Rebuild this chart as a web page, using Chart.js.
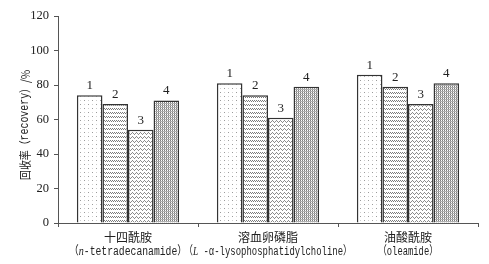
<!DOCTYPE html>
<html>
<head>
<meta charset="utf-8">
<script src="https://cdn.jsdelivr.net/npm/chart.js@4"></script>
<style>
  html, body { margin: 0; padding: 0; background: #fff; }
  #wrap { width: 489px; height: 264px; }
</style>
</head>
<body>
<div id="wrap"><canvas id="chart" width="489" height="264"></canvas></div>
<script>
// 数据
const categoriesCn = ['十四酰胺', '溶血卵磷脂', '油酸酰胺'];
const categoriesEn = [
    ['（', 'n', '-tetradecanamide）'],
    ['（', 'L', ' -α-lysophosphatidylcholine）'],
    ['（oleamide）']
];
const seriesNames = ['1', '2', '3', '4'];
const series1 = [74, 81, 86];
const series2 = [69, 74, 79];
const series3 = [54, 61, 69];
const series4 = [71, 79, 81];
const yTicks = [0, 20, 40, 60, 80, 100, 120];

const serif = '"Liberation Serif", "DejaVu Serif", "Noto Sans CJK SC", serif';
const mono = '"Liberation Mono", "DejaVu Sans Mono", "Noto Sans CJK SC", monospace';
const cjk = '"Noto Sans CJK SC", "Liberation Serif", serif';

// texturas dos bars
function makePattern(kind) {
    const c = document.createElement('canvas');
    c.width = 8; c.height = 8;
    const g = c.getContext('2d');
    g.fillStyle = '#fff';
    g.fillRect(0, 0, 8, 8);
    if (kind === 'dots') {
        g.fillStyle = '#9a9a9a';
        g.fillRect(0, 0, 1, 1);
        g.fillRect(4, 4, 1, 1);
        g.fillStyle = '#cfcfcf';
        g.fillRect(4, 0, 1, 1);
        g.fillRect(0, 4, 1, 1);
    } else if (kind === 'wave') {
        g.fillStyle = '#7a7a7a';
        for (let x = 0; x < 8; x++) {
            const y = (x % 2 === 0) ? 0 : 1;
            g.fillRect(x, y, 1, 1);
            g.fillRect(x, y + 4, 1, 1);
        }
    } else if (kind === 'zigzag') {
        g.fillStyle = '#8c8c8c';
        for (let x = 0; x < 8; x++) {
            const y = [0, 1, 2, 1][x % 4];
            g.fillRect(x, y, 1, 1);
            g.fillRect(x, y + 4, 1, 1);
        }
    } else {
        g.fillStyle = '#7e7e7e';
        for (let y = 0; y < 8; y++) {
            for (let x = 0; x < 8; x++) {
                if ((x + y) % 2 === 0) g.fillRect(x, y, 1, 1);
            }
        }
        g.fillStyle = '#b0b0b0';
        for (let y = 1; y < 8; y += 2) g.fillRect(0, y, 8, 1);
    }
    return g.createPattern(c, 'repeat');
}

const patterns = [makePattern('dots'), makePattern('wave'), makePattern('zigzag'), makePattern('cross')];
const allSeries = [series1, series2, series3, series4];

// numeros acima das barras
const barNumbers = {
    id: 'barNumbers',
    afterDatasetsDraw(chart) {
        const ctx = chart.ctx;
        ctx.save();
        ctx.font = '13px ' + serif;
        ctx.fillStyle = '#222';
        ctx.textAlign = 'center';
        ctx.textBaseline = 'bottom';
        chart.data.datasets.forEach((ds, i) => {
            chart.getDatasetMeta(i).data.forEach(bar => {
                ctx.fillText(ds.label, bar.x, bar.y - 3);
            });
        });
        ctx.restore();
    }
};

// rotulos do eixo x (com italico, fonte estreita)
const enWidths = [118, 168, 60];
const xLabels = {
    id: 'xLabels',
    afterDraw(chart) {
        const ctx = chart.ctx;
        const xs = chart.scales.x;
        ctx.save();
        ctx.fillStyle = '#222';
        ctx.textBaseline = 'middle';
        categoriesCn.forEach((name, i) => {
            const cx = xs.getPixelForValue(i);
            ctx.font = '12px ' + cjk;
            ctx.textAlign = 'center';
            ctx.fillText(name, cx, 237);

            const parts = categoriesEn[i];
            const fonts = parts.map((p, j) => (parts.length > 1 && j === 1 ? 'italic 12.5px ' + serif : '12px ' + mono));
            let total = 0;
            const widths = parts.map((p, j) => { ctx.font = fonts[j]; const w = ctx.measureText(p).width; total += w; return w; });
            ctx.save();
            ctx.translate(cx, 252);
            ctx.scale(enWidths[i] / total, 1);
            let x = -total / 2;
            ctx.textAlign = 'left';
            parts.forEach((p, j) => {
                ctx.font = fonts[j];
                ctx.fillText(p, x, 0);
                x += widths[j];
            });
            ctx.restore();
        });
        ctx.restore();
    }
};

// titulo do eixo y
const yTitle = {
    id: 'yTitle',
    afterDraw(chart) {
        const ctx = chart.ctx;
        ctx.save();
        ctx.translate(25, 125);
        ctx.rotate(-Math.PI / 2);
        ctx.fillStyle = '#222';
        ctx.textBaseline = 'middle';
        const parts = [['回收率（', '12px ' + cjk], ['recovery', '12px ' + mono], ['）/%', '12px ' + cjk]];
        let total = 0;
        const widths = parts.map(p => { ctx.font = p[1]; const w = ctx.measureText(p[0]).width; total += w; return w; });
        ctx.scale(110 / total, 1);
        let x = -total / 2;
        ctx.textAlign = 'left';
        parts.forEach((p, j) => {
            ctx.font = p[1];
            ctx.fillText(p[0], x, 0);
            x += widths[j];
        });
        ctx.restore();
    }
};

new Chart(document.getElementById('chart'), {
    type: 'bar',
    data: {
        labels: categoriesCn,
        datasets: allSeries.map((vals, i) => ({
            label: seriesNames[i],
            data: vals,
            backgroundColor: patterns[i],
            borderColor: '#333',
            borderWidth: 1.5,
            borderSkipped: 'bottom',
            categoryPercentage: 0.73,
            barPercentage: 1.0
        }))
    },
    options: {
        responsive: false,
        animation: false,
        layout: { padding: { top: 16, right: 11, left: 0, bottom: 0 } },
        plugins: {
            legend: { display: false },
            tooltip: { enabled: false }
        },
        scales: {
            x: {
                offset: true,
                grid: { offset: true, drawOnChartArea: false, drawTicks: true, tickLength: 4, color: '#555' },
                border: { color: '#555', width: 1 },
                ticks: { display: false },
                afterFit(scale) { scale.height = 41; }
            },
            y: {
                min: 0,
                max: 120,
                afterBuildTicks(scale) { scale.ticks = yTicks.map(v => ({ value: v })); },
                grid: { drawOnChartArea: false, drawTicks: true, tickLength: 4, color: '#555' },
                border: { color: '#555', width: 1 },
                ticks: { color: '#222', font: { family: serif, size: 12.5 }, padding: 5 },
                afterFit(scale) { scale.width = 58; }
            }
        }
    },
    plugins: [barNumbers, xLabels, yTitle]
});
</script>
</body>
</html>
